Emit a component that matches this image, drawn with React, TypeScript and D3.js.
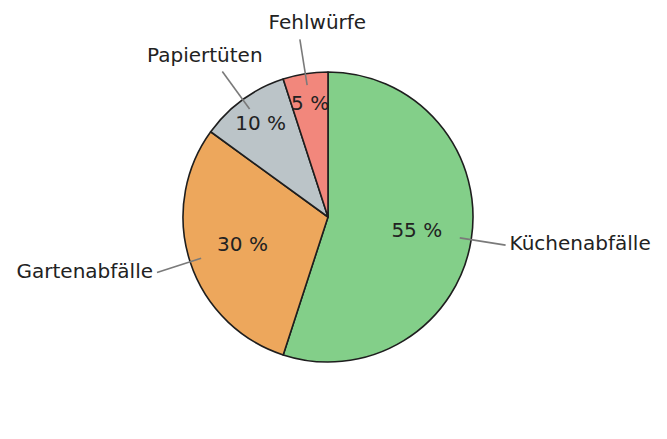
import React, { useEffect, useRef } from "react";
import * as d3 from "d3";

// Anteile am Bioabfall (in Prozent)
const categories = ["Küchenabfälle", "Gartenabfälle", "Papiertüten", "Fehlwürfe"];
const shares = [55, 30, 10, 5];
const colors = ["#83cf89", "#eda75c", "#bbc4c8", "#f2877c"];

const WIDTH = 667;
const HEIGHT = 439;

const App: React.FC = () => {
  const svgRef = useRef<SVGSVGElement | null>(null);

  useEffect(() => {
    if (!svgRef.current) return;
    const svg = d3.select(svgRef.current);
    svg.selectAll("*").remove();

    const cx = 328;
    const cy = 217;
    const radius = 145;
    const fontSize = 20;
    const font = "DejaVu Sans, sans-serif";

    const data = categories.map((name, i) => ({ name, value: shares[i], color: colors[i] }));
    const total = d3.sum(shares);

    const pie = d3
      .pie<{ name: string; value: number; color: string }>()
      .sort(null)
      .value((d) => d.value);
    const arcs = pie(data);

    const arc = d3
      .arc<d3.PieArcDatum<{ name: string; value: number; color: string }>>()
      .innerRadius(0)
      .outerRadius(radius);

    const g = svg.append("g").attr("transform", `translate(${cx},${cy})`);

    g.selectAll("path.slice")
      .data(arcs)
      .join("path")
      .attr("class", "slice")
      .attr("d", arc)
      .attr("fill", (d) => d.data.color)
      .attr("stroke", "#1e1e1e")
      .attr("stroke-width", 1.6)
      .attr("stroke-linejoin", "round");

    const mid = (d: d3.PieArcDatum<unknown>) => (d.startAngle + d.endAngle) / 2;
    const pt = (a: number, r: number): [number, number] => [Math.sin(a) * r, -Math.cos(a) * r];

    // percentage labels, small slices pushed further out
    const pctR = (d: d3.PieArcDatum<unknown>) => radius * (d.value / total < 0.15 ? 0.79 : 0.62);
    g.selectAll("text.pct")
      .data(arcs)
      .join("text")
      .attr("class", "pct")
      .attr("x", (d) => pt(mid(d), pctR(d))[0])
      .attr("y", (d) => pt(mid(d), pctR(d))[1] - 1)
      .attr("text-anchor", "middle")
      .attr("dominant-baseline", "central")
      .attr("font-family", font)
      .attr("font-size", fontSize)
      .attr("fill", "#222")
      .text((d) => `${d.value} %`);

    // leader lines
    g.selectAll("line.leader")
      .data(arcs)
      .join("line")
      .attr("class", "leader")
      .attr("x1", (d) => pt(mid(d), radius * 0.92)[0])
      .attr("y1", (d) => pt(mid(d), radius * 0.92)[1])
      .attr("x2", (d) => pt(mid(d), radius * 1.24)[0])
      .attr("y2", (d) => pt(mid(d), radius * 1.24)[1])
      .attr("stroke", "#7a7a7a")
      .attr("stroke-width", 1.6);

    // category labels
    const labels = g
      .selectAll<SVGTextElement, d3.PieArcDatum<{ name: string; value: number; color: string }>>("text.cat")
      .data(arcs)
      .join("text")
      .attr("class", "cat")
      .attr("font-family", font)
      .attr("font-size", fontSize)
      .attr("fill", "#222")
      .text((d) => d.data.name);

    type Box = { x: number; y: number; w: number; anchor: string };
    const boxes: Box[] = [];
    labels.each(function (d) {
      const a = mid(d);
      const [ex, ey] = pt(a, radius * 1.24);
      const w = (this as SVGTextElement).getComputedTextLength();
      const s = Math.sin(a);
      if (Math.abs(s) > 0.85) {
        boxes.push({ x: ex + (s > 0 ? 4 : -4), y: ey - 2, w, anchor: s > 0 ? "start" : "end" });
      } else {
        boxes.push({ x: ex, y: ey - 17, w, anchor: "middle" });
      }
    });

    // push overlapping centred labels apart horizontally
    for (let i = 0; i < boxes.length; i++) {
      for (let j = i + 1; j < boxes.length; j++) {
        const a = boxes[i];
        const b = boxes[j];
        if (a.anchor !== "middle" || b.anchor !== "middle") continue;
        if (Math.abs(a.y - b.y) > 45) continue;
        const [l, r] = a.x < b.x ? [a, b] : [b, a];
        const overlap = l.x + l.w / 2 + 6 - (r.x - r.w / 2);
        if (overlap > 0) {
          l.x -= overlap / 2;
          r.x += overlap / 2;
        }
      }
    }

    labels
      .attr("x", (_, i) => boxes[i].x)
      .attr("y", (_, i) => boxes[i].y)
      .attr("text-anchor", (_, i) => boxes[i].anchor)
      .attr("dominant-baseline", "central");
  }, []);

  return (
    <svg
      ref={svgRef}
      width={WIDTH}
      height={HEIGHT}
      style={{ position: "absolute", left: 0, top: 0, background: "#fff" }}
    />
  );
};

export default App;
